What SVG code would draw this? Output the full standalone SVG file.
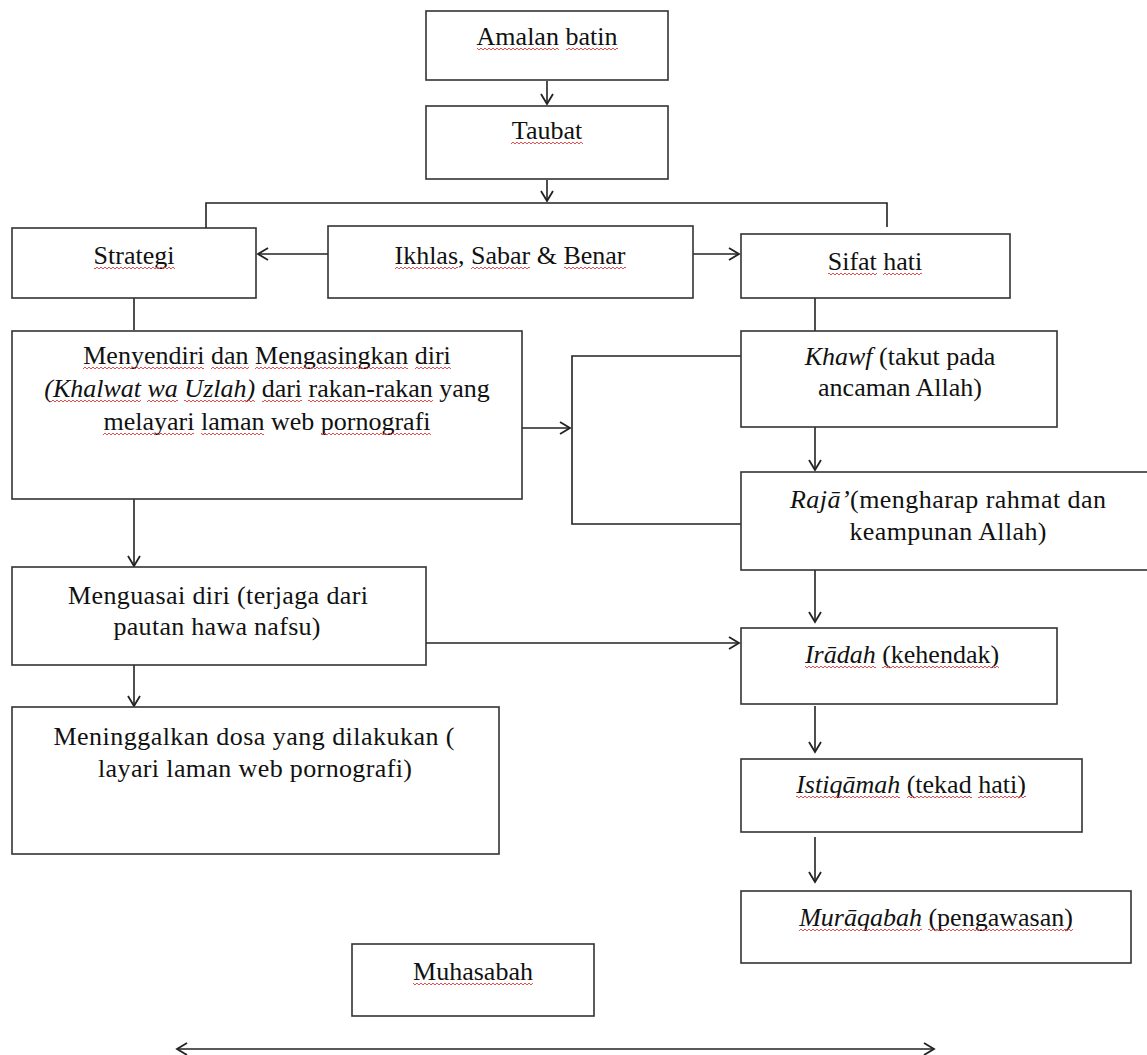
<svg xmlns="http://www.w3.org/2000/svg" width="1147" height="1055" viewBox="0 0 1147 1055">
<style>
.box{fill:#fff;stroke:#333;stroke-width:1.6}
.t{font-family:"Liberation Serif","Times New Roman","DejaVu Serif",serif;font-size:26px;fill:#111;text-anchor:middle}
.i{font-style:italic}
.w{fill:url(#wv)}
.c{fill:none;stroke:#222;stroke-width:1.6}
</style>
<defs>
<marker id="ah" markerUnits="userSpaceOnUse" markerWidth="14" markerHeight="14" viewBox="0 0 12 14" refX="11" refY="7" orient="auto-start-reverse">
<path d="M1,1 L11,7 L1,13" fill="none" stroke="#222" stroke-width="1.8"/>
</marker>
<pattern id="wv" patternUnits="userSpaceOnUse" width="4" height="4">
<polyline points="0,2 1,1 3,3 4,2" fill="none" stroke="#e23b3b" stroke-width="0.9"/>
</pattern>
</defs>
<rect width="1147" height="1055" fill="#fff"/>

<g id="connectors">
<line class="c" x1="547" y1="81" x2="547" y2="104" marker-end="url(#ah)"/>
<line class="c" x1="547" y1="180" x2="547" y2="201" marker-end="url(#ah)"/>
<polyline class="c" points="206,228 206,203 887,203 887,227"/>
<line class="c" x1="328" y1="254" x2="258" y2="254" marker-end="url(#ah)"/>
<line class="c" x1="693" y1="254" x2="739" y2="254" marker-end="url(#ah)"/>
<line class="c" x1="134" y1="298" x2="134" y2="330"/>
<line class="c" x1="815" y1="298" x2="815" y2="331"/>
<line class="c" x1="522" y1="428" x2="570" y2="428" marker-end="url(#ah)"/>
<polyline class="c" points="741,356 572,356 572,524 741,524"/>
<line class="c" x1="815" y1="427" x2="815" y2="470" marker-end="url(#ah)"/>
<line class="c" x1="134" y1="499" x2="134" y2="566" marker-end="url(#ah)"/>
<line class="c" x1="815" y1="570" x2="815" y2="622" marker-end="url(#ah)"/>
<line class="c" x1="426" y1="643" x2="739" y2="643" marker-end="url(#ah)"/>
<line class="c" x1="134" y1="665" x2="134" y2="706" marker-end="url(#ah)"/>
<line class="c" x1="815" y1="706" x2="815" y2="752" marker-end="url(#ah)"/>
<line class="c" x1="815" y1="837" x2="815" y2="882" marker-end="url(#ah)"/>
<line class="c" x1="177" y1="1049" x2="934" y2="1049" marker-start="url(#ah)" marker-end="url(#ah)"/>
</g>

<g id="amalan">
<rect class="box" x="426" y="11" width="242" height="69"/>
<text class="t" x="547" y="45">Amalan batin</text>
<g transform="translate(0,47)"><rect class="w" x="477" width="82" height="4"/><rect class="w" x="566" width="52" height="4"/></g>
</g>
<g id="taubat">
<rect class="box" x="426" y="106" width="242" height="73"/>
<text class="t" x="547" y="139">Taubat</text>
<g transform="translate(0,141)"><rect class="w" x="511" width="72" height="4"/></g>
</g>
<g id="strategi">
<rect class="box" x="12" y="228" width="244" height="70"/>
<text class="t" x="134" y="264">Strategi</text>
<g transform="translate(0,266)"><rect class="w" x="94" width="81" height="4"/></g>
</g>
<g id="ikhlas">
<rect class="box" x="328" y="226" width="365" height="72"/>
<text class="t" x="510" y="264">Ikhlas, Sabar &amp; Benar</text>
<g transform="translate(0,266)"><rect class="w" x="395" width="63" height="4"/><rect class="w" x="471" width="59" height="4"/><rect class="w" x="564" width="62" height="4"/></g>
</g>
<g id="sifat">
<rect class="box" x="741" y="234" width="269" height="64"/>
<text class="t" x="875" y="270">Sifat hati</text>
<g transform="translate(0,272)"><rect class="w" x="828" width="49" height="4"/><rect class="w" x="883" width="39" height="4"/></g>
</g>
<g id="menyendiri">
<rect class="box" x="12" y="331" width="510" height="168"/>
<text class="t" x="267" y="364">Menyendiri dan Mengasingkan diri</text>
<text class="t" x="267" y="397"><tspan class="i">(Khalwat wa Uzlah)</tspan> dari rakan-rakan yang</text>
<text class="t" x="267" y="430">melayari laman web pornografi</text>
<g transform="translate(0,366)"><rect class="w" x="83" width="121" height="4"/><rect class="w" x="211" width="38" height="4"/><rect class="w" x="255" width="153" height="4"/><rect class="w" x="415" width="36" height="4"/></g>
<g transform="translate(0,399)"><rect class="w" x="50" width="91" height="4"/><rect class="w" x="147" width="31" height="4"/><rect class="w" x="184" width="71" height="4"/><rect class="w" x="262" width="40" height="4"/><rect class="w" x="308" width="125" height="4"/></g>
<g transform="translate(0,432)"><rect class="w" x="103" width="91" height="4"/><rect class="w" x="201" width="63" height="4"/><rect class="w" x="321" width="110" height="4"/></g>
</g>
<g id="khawf">
<rect class="box" x="741" y="331" width="316" height="96"/>
<text class="t" x="900" y="365"><tspan class="i">Khawf</tspan> (takut pada</text>
<text class="t" x="900" y="396">ancaman Allah)</text>
</g>
<g id="raja">
<rect class="box" x="741" y="472" width="420" height="98"/>
<text class="t" x="948" y="508" textLength="316" lengthAdjust="spacing"><tspan class="i">Rajā’</tspan>(mengharap rahmat dan</text>
<text class="t" x="948" y="540" textLength="197" lengthAdjust="spacing">keampunan Allah)</text>
</g>
<g id="menguasai">
<rect class="box" x="12" y="567" width="414" height="98"/>
<text class="t" x="218" y="604" textLength="300" lengthAdjust="spacing">Menguasai diri (terjaga dari</text>
<text class="t" x="217" y="635" textLength="207" lengthAdjust="spacing">pautan hawa nafsu)</text>
</g>
<g id="iradah">
<rect class="box" x="741" y="628" width="316" height="76"/>
<text class="t" x="902" y="663"><tspan class="i">Irādah</tspan> (kehendak)</text>
<g transform="translate(0,665)"><rect class="w" x="805" width="71" height="4"/><rect class="w" x="882" width="117" height="4"/></g>
</g>
<g id="meninggalkan">
<rect class="box" x="12" y="707" width="487" height="147"/>
<text class="t" x="254" y="745" textLength="401" lengthAdjust="spacing">Meninggalkan dosa yang dilakukan (</text>
<text class="t" x="255" y="777" textLength="314" lengthAdjust="spacing">layari laman web pornografi)</text>
</g>
<g id="istiqamah">
<rect class="box" x="741" y="759" width="341" height="73"/>
<text class="t" x="911" y="793"><tspan class="i">Istiqāmah</tspan> (tekad hati)</text>
<g transform="translate(0,795)"><rect class="w" x="796" width="104" height="4"/><rect class="w" x="907" width="65" height="4"/><rect class="w" x="978" width="48" height="4"/></g>
</g>
<g id="muraqabah">
<rect class="box" x="741" y="891" width="390" height="72"/>
<text class="t" x="936" y="926"><tspan class="i">Murāqabah</tspan> (pengawasan)</text>
<g transform="translate(0,928)"><rect class="w" x="799" width="123" height="4"/><rect class="w" x="928" width="145" height="4"/></g>
</g>
<g id="muhasabah">
<rect class="box" x="352" y="944" width="242" height="72"/>
<text class="t" x="473" y="980">Muhasabah</text>
<g transform="translate(0,982)"><rect class="w" x="413" width="120" height="4"/></g>
</g>
</svg>
